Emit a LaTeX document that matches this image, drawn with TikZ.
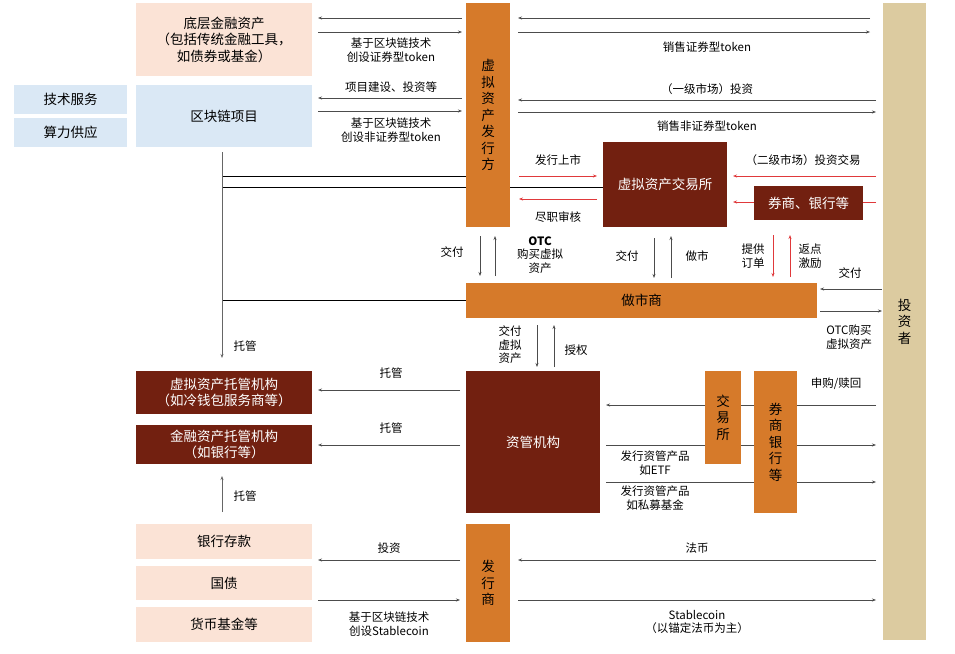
\documentclass[tikz,border=0pt]{standalone}
\usepackage{fontspec}
\setmainfont{Noto Sans CJK SC}
\usetikzlibrary{arrows.meta}
\definecolor{peach}{HTML}{FBE3D6}
\definecolor{lblue}{HTML}{DAE8F5}
\definecolor{org}{HTML}{D67A2A}
\definecolor{dark}{HTML}{722010}
\definecolor{tan}{HTML}{DCCBA0}
\definecolor{rl}{HTML}{E0393B}
\begin{document}
\begin{tikzpicture}[x=1pt,y=-1pt,
 lbl/.style={font=\fontsize{11.5}{13.5}\selectfont,align=center,inner sep=0pt},
 bt/.style={font=\fontsize{13.5}{16.5}\selectfont,align=center},
 ar/.style={-{Stealth[length=4pt,width=3pt]},draw=black!70,line width=0.7pt},
 rar/.style={-{Stealth[length=4pt,width=3pt]},draw=rl,line width=0.7pt},
 ln/.style={draw=black,line width=0.8pt}]
\useasboundingbox (0,0) rectangle (955,653);
\draw[ln,black!60] (222,152) -- (222,176);
\draw[ln] (222,176) -- (466,176);
\draw[ln] (222,187) -- (603,187);
\draw[ln] (222,300) -- (466,300);
\draw[ar,black!60] (222,176) -- (222,358);
\draw[ar] (876,405) -- (606,405);
\draw[ar] (606,445) -- (876,445);
\draw[ar] (606,482) -- (876,482);
\newcommand{\bxx}[6]{\fill[#5] (#1,#2) rectangle (#3,#4); \node[bt,#6] at ({(#1+#3)/2},{(#2+#4)/2})}
\bxx{136}{3}{312}{76}{peach}{}(a1){底层金融资产\\（包括传统金融工具，\\如债券或基金）};
\bxx{136}{85}{312}{147}{lblue}{}(a2){区块链项目};
\bxx{14}{85}{127}{114}{lblue}{}(t1){技术服务};
\bxx{14}{118}{127}{147}{lblue}{}(t2){算力供应};
\bxx{466}{3}{510}{227}{org}{}(iss){虚\\拟\\资\\产\\发\\行\\方};
\bxx{603}{142}{727}{227}{dark}{text=white}(ex){虚拟资产交易所};
\bxx{754}{186}{863}{220}{dark}{text=white}(br){券商、银行等};
\bxx{466}{283}{817}{318}{org}{}(mm){做市商};
\bxx{883}{3}{926}{640}{tan}{}(inv){投\\资\\者};
\bxx{136}{371}{312}{414}{dark}{text=white}(c1){虚拟资产托管机构\\（如冷钱包服务商等）};
\bxx{136}{425}{312}{464}{dark}{text=white}(c2){金融资产托管机构\\（如银行等）};
\bxx{466}{371}{600}{513}{dark}{text=white}(am){资管机构};
\bxx{705}{371}{741}{464}{org}{}(ex2){交\\易\\所};
\bxx{754}{371}{797}{513}{org}{}(bk){券\\商\\银\\行\\等};
\bxx{136}{524}{312}{559}{peach}{}(d1){银行存款};
\bxx{136}{566}{312}{600}{peach}{}(d2){国债};
\bxx{136}{607}{312}{642}{peach}{}(d3){货币基金等};
\bxx{466}{524}{510}{642}{org}{}(sc){发\\行\\商};
\draw[ar] (462,18) -- (318,18); \draw[ar] (318,32) -- (462,32);
\node[lbl] at (391,50) {基于区块链技术\\创设证券型token};
\draw[ar] (870,18) -- (518,18); \draw[ar] (518,32) -- (870,32);
\node[lbl] at (707,47) {销售证券型token};
\draw[ar] (462,98) -- (318,98); \draw[ar] (318,111) -- (462,111);
\node[lbl] at (391,87) {项目建设、投资等};
\node[lbl] at (391,130) {基于区块链技术\\创设非证券型token};
\draw[ar] (876,100) -- (518,100); \draw[ar] (518,112) -- (876,112);
\node[lbl] at (707,89) {（一级市场）投资};
\node[lbl] at (707,126) {销售非证券型token};
\draw[rar] (519,176) -- (597,176); \node[lbl] at (558,160) {发行上市};
\draw[rar] (597,199) -- (519,199); \node[lbl] at (558,217) {尽职审核};
\draw[rar] (876,176) -- (733,176); \node[lbl] at (803,160) {（二级市场）投资交易};
\draw[rl,line width=0.7pt] (876,202) -- (863,202); \draw[rar] (754,202) -- (733,202);
\draw[ar] (480,236) -- (480,276); \node[lbl] at (452,252) {交付};
\draw[ar] (495,276) -- (495,236);
\node[lbl] at (540,255) {\textbf{OTC}\\购买虚拟\\资产};
\draw[ar] (654,238) -- (654,278); \draw[ar] (671,278) -- (671,236);
\node[lbl] at (627,256) {交付}; \node[lbl] at (697,256) {做市};
\draw[rar] (773,235) -- (773,277); \draw[rar] (790,277) -- (790,235);
\node[lbl] at (753,256) {提供\\订单}; \node[lbl] at (810,256) {返点\\激励};
\node[lbl] at (850,273) {交付};
\draw[ar] (882,289) -- (820,289); \draw[ar] (820,311) -- (882,311);
\node[lbl] at (849,337) {OTC购买\\虚拟资产};
\draw[ar] (537,325) -- (537,367); \draw[ar] (554,367) -- (554,325);
\node[lbl] at (510,345) {交付\\虚拟\\资产}; \node[lbl] at (576,350) {授权};
\node[lbl] at (245,346) {托管};
\draw[ar] (460,390) -- (318,390); \node[lbl] at (391,373) {托管};
\draw[ar] (460,445) -- (318,445); \node[lbl] at (391,428) {托管};
\draw[ar,black!60] (222,512) -- (222,476); \node[lbl] at (245,496) {托管};
\node[lbl] at (836,384) {申购/赎回};
\node[lbl] at (655,463) {发行资管产品\\如ETF};
\node[lbl] at (655,498) {发行资管产品\\如私募基金};
\draw[ar] (460,560) -- (318,560); \node[lbl] at (389,548) {投资};
\draw[ar] (876,560) -- (518,560); \node[lbl] at (697,548) {法币};
\draw[ar] (318,600) -- (460,600); \node[lbl] at (389,624) {基于区块链技术\\创设Stablecoin};
\draw[ar] (518,600) -- (876,600); \node[lbl] at (697,622) {Stablecoin\\（以锚定法币为主）};
\end{tikzpicture}
\end{document}
